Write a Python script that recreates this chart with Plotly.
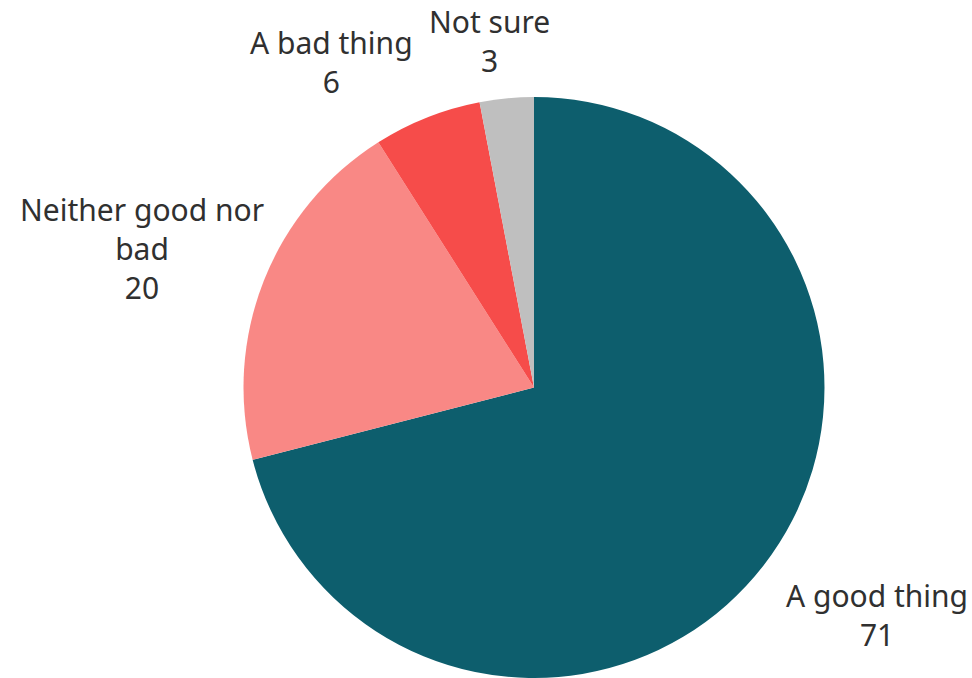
import math
import plotly.graph_objects as go

# Survey responses (percent)
categories = ["A good thing", "Neither good nor<br>bad", "A bad thing", "Not sure"]
values = [71, 20, 6, 3]
colors = ["#0D5E6D", "#F98885", "#F64C4A", "#BFBFBF"]
# label offsets (px) from each slice's rim midpoint
label_shift = [(113, -49), (-122, 32), (-96, 55), (-17, 57)]

W, H = 972, 678
TOP = 97                      # top margin (px)
PLOT_H = H - TOP              # plot area height (px)
R = PLOT_H / 2                # pie radius (px)
CX = 534                      # pie centre x (px)
CY = TOP + R                  # pie centre y (px)

FONT = "Segoe UI, Noto Sans, Open Sans, sans-serif"

fig = go.Figure(
    go.Pie(
        labels=[c.replace("<br>", " ") for c in categories],
        values=values,
        sort=False,
        direction="clockwise",
        rotation=0,
        marker=dict(colors=colors, line=dict(width=0)),
        textinfo="none",
        hoverinfo="label+value",
        domain=dict(x=[(CX - R) / W, (CX + R) / W], y=[0, 1]),
        showlegend=False,
    )
)

# outside labels, anchored at each slice's mid-angle on the rim
total = sum(values)
cum = 0
annotations = []
for cat, v, (dx, dy) in zip(categories, values, label_shift):
    mid = (cum + v / 2) / total * 2 * math.pi
    cum += v
    px = CX + R * math.sin(mid)
    py = CY - R * math.cos(mid)
    annotations.append(
        dict(
            x=px / W,
            y=(H - py) / PLOT_H,
            xref="paper",
            yref="paper",
            text=f"{cat}<br>{v}",
            showarrow=False,
            xanchor="center",
            yanchor="middle",
            xshift=dx,
            yshift=dy,
            align="center",
            font=dict(family=FONT, size=30, color="#303030"),
        )
    )

fig.update_layout(
    width=W,
    height=H,
    margin=dict(l=0, r=0, t=TOP, b=0),
    paper_bgcolor="white",
    plot_bgcolor="white",
    annotations=annotations,
)

fig.write_html("out.html")
